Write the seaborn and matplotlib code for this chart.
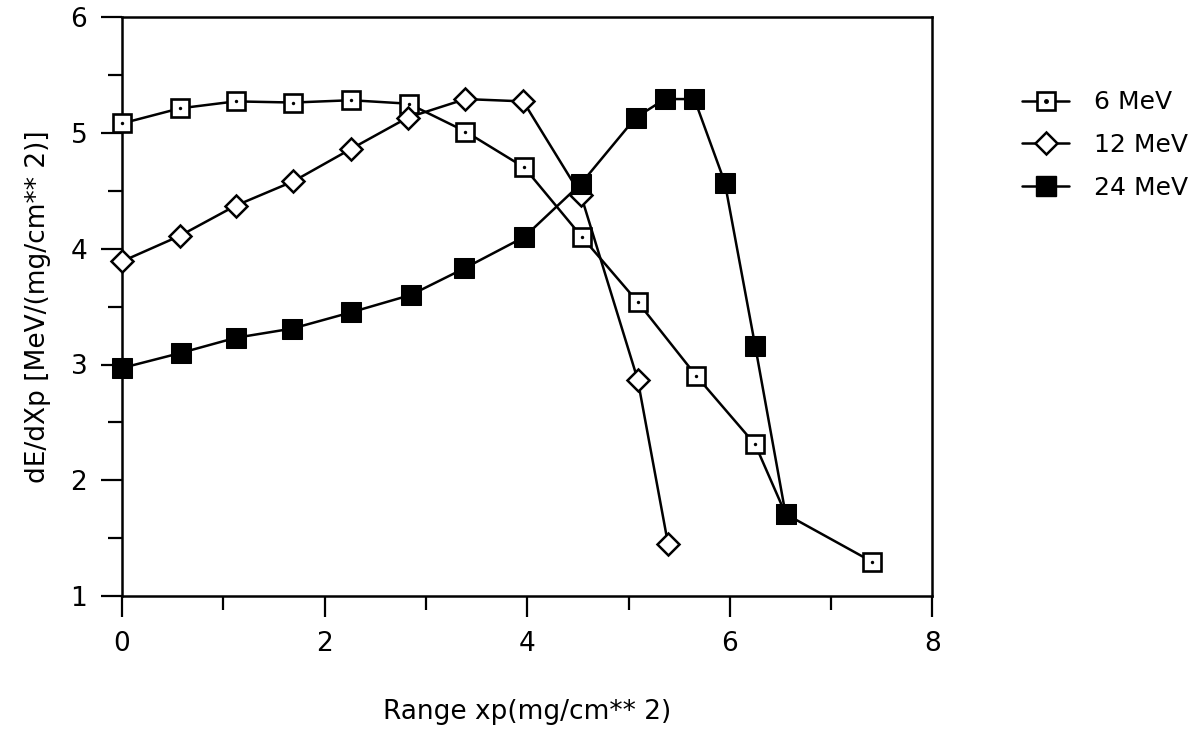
import seaborn as sns
import pandas as pd
import matplotlib.pyplot as plt
from matplotlib.ticker import MultipleLocator
from matplotlib.legend_handler import HandlerTuple
from matplotlib.lines import Line2D

# data
x_6 = [0.0, 0.57, 1.12, 1.69, 2.26, 2.83, 3.39, 3.97, 4.54, 5.09, 5.67, 6.25, 6.55, 7.40]
y_6 = [5.08, 5.21, 5.27, 5.26, 5.28, 5.25, 5.01, 4.70, 4.10, 3.54, 2.90, 2.31, 1.71, 1.30]

x_12 = [0.0, 0.57, 1.12, 1.69, 2.26, 2.82, 3.39, 3.96, 4.53, 5.09, 5.39]
y_12 = [3.89, 4.11, 4.37, 4.58, 4.86, 5.13, 5.29, 5.27, 4.46, 2.87, 1.45]

x_24 = [0.0, 0.58, 1.12, 1.68, 2.26, 2.85, 3.38, 3.97, 4.53, 5.07, 5.36, 5.65, 5.95, 6.25, 6.55]
y_24 = [2.97, 3.10, 3.23, 3.31, 3.45, 3.60, 3.83, 4.10, 4.56, 5.13, 5.29, 5.29, 4.57, 3.16, 1.71]

labels = ["6 MeV", "12 MeV", "24 MeV"]

sns.set_style("ticks")
plt.rcParams['font.family'] = ['DejaVu Sans']
plt.rcParams['text.color'] = 'black'
plt.rcParams['axes.labelcolor'] = 'black'
plt.rcParams['xtick.color'] = 'black'
plt.rcParams['ytick.color'] = 'black'
plt.rcParams['axes.edgecolor'] = 'black'

fig = plt.figure(figsize=(11.97, 7.29), dpi=100)
ax = fig.add_axes([0.102, 0.182, 0.677, 0.795])

lw = 1.8
d6 = pd.DataFrame({"x": x_6, "y": y_6})
d12 = pd.DataFrame({"x": x_12, "y": y_12})
d24 = pd.DataFrame({"x": x_24, "y": y_24})

sns.lineplot(data=d6, x="x", y="y", ax=ax, color="black", lw=lw, marker="s",
             markersize=13, markerfacecolor="white", markeredgecolor="black",
             markeredgewidth=1.9, sort=False, zorder=3, clip_on=False)
sns.scatterplot(data=d6, x="x", y="y", ax=ax, color="black", s=6, marker="o",
                linewidth=0, legend=False, zorder=3.5, clip_on=False)
sns.lineplot(data=d12, x="x", y="y", ax=ax, color="black", lw=lw, marker="D",
             markersize=11, markerfacecolor="white", markeredgecolor="black",
             markeredgewidth=1.8, sort=False, zorder=4, clip_on=False)
sns.lineplot(data=d24, x="x", y="y", ax=ax, color="black", lw=lw, marker="s",
             markersize=15, markerfacecolor="black", markeredgecolor="black",
             sort=False, zorder=5, clip_on=False)

ax.set_xlim(0, 8)
ax.set_ylim(1, 6)
ax.xaxis.set_major_locator(MultipleLocator(2))
ax.xaxis.set_minor_locator(MultipleLocator(1))
ax.yaxis.set_major_locator(MultipleLocator(1))
ax.yaxis.set_minor_locator(MultipleLocator(0.5))
ax.tick_params(which="major", direction="out", length=15, width=1.6, labelsize=19, pad=10)
ax.tick_params(which="minor", direction="out", length=10, width=1.6)
for s in ax.spines.values():
    s.set_linewidth(1.8)
    s.set_visible(True)

ax.set_xlabel("Range xp(mg/cm** 2)", fontsize=19, labelpad=30)
ax.set_ylabel("dE/dXp [MeV/(mg/cm** 2)]", fontsize=19, labelpad=14)

h6 = (Line2D([], [], color="black", lw=lw, marker="s", markersize=13,
             markerfacecolor="white", markeredgewidth=1.9),
      Line2D([], [], ls="none", marker="o", markersize=2.5, color="black"))
h12 = Line2D([], [], color="black", lw=lw, marker="D", markersize=11,
             markerfacecolor="white", markeredgewidth=1.8)
h24 = Line2D([], [], color="black", lw=lw, marker="s", markersize=15,
             markerfacecolor="black")
fig.legend([h6, h12, h24], labels, loc="upper left", bbox_to_anchor=(0.835, 0.907),
           frameon=False, fontsize=18, handlelength=1.9, handletextpad=1.0,
           labelspacing=0.75, handler_map={tuple: HandlerTuple(ndivide=1, pad=0)})

fig.savefig("out.png", dpi=100)
